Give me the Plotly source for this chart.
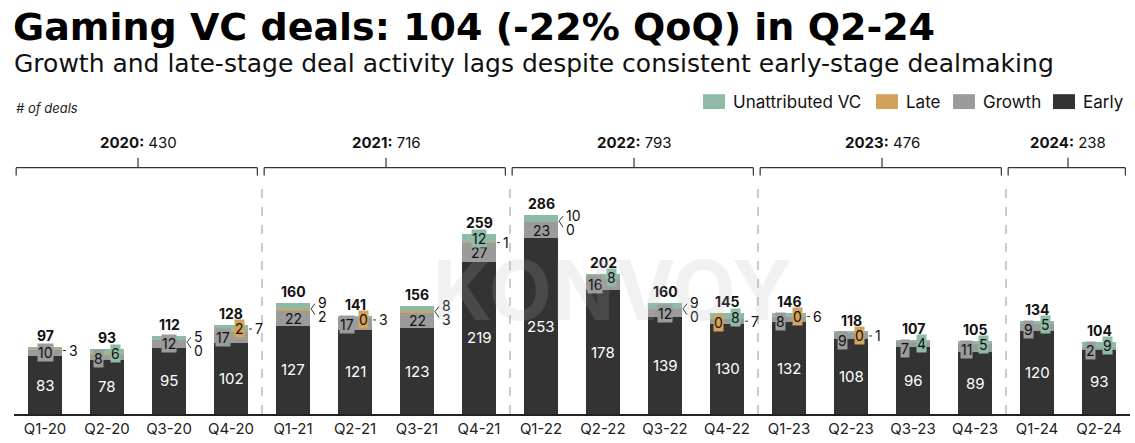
import plotly.graph_objects as go

# ---------------- data ----------------
quarters = ["Q1-20", "Q2-20", "Q3-20", "Q4-20", "Q1-21", "Q2-21", "Q3-21", "Q4-21",
            "Q1-22", "Q2-22", "Q3-22", "Q4-22", "Q1-23", "Q2-23", "Q3-23", "Q4-23",
            "Q1-24", "Q2-24"]
early = [83, 78, 95, 102, 127, 121, 123, 219, 253, 178, 139, 130, 132, 108, 96, 89, 120, 93]
growth = [10, 8, 12, 17, 22, 17, 22, 27, 23, 16, 12, 7, 8, 9, 7, 11, 9, 2]
late = [1, 1, 0, 2, 2, 0, 3, 1, 0, 0, 0, 0, 0, 0, 0, 0, 0, 0]
unattributed = [3, 6, 5, 7, 9, 3, 8, 12, 10, 8, 9, 8, 6, 1, 4, 5, 5, 9]
years = ["2020", "2021", "2022", "2023", "2024"]

# label placement style per quarter (g=growth, l=late, u=unattributed)
# c=centre, l=left box, r=right box, o=outside, ou=outside up, od=outside down
label_style = ["g:c,u:o", "g:l,u:r", "g:c,l:od,u:ou", "g:l,l:r,u:o",
               "g:c,l:od,u:ou", "g:l,l:r,u:o", "g:c,l:od,u:ou", "g:c,l:o,u:cb",
               "g:c,l:od,u:ou", "g:l,u:r", "g:c,l:od,u:ou", "g:o,l:l,u:r",
               "g:l,l:r,u:o", "g:l,l:r,u:o", "g:l,u:r", "g:l,u:r",
               "g:l,u:r", "g:l,u:r"]

# ---------------- style ----------------
COL = {"early": "#333333", "growth": "#9b9b9b", "late": "#d1a35b", "unatt": "#8fbba6"}
FONT = "Inter, Roboto, sans-serif"
TFONT = "DejaVu Sans, sans-serif"
W, H = 1135, 443
L, R, T, B = 14, 5, 120, 27
PW, PH = W - L - R, H - T - B
YMAX = 422.9
K = PH / YMAX  # px per unit


def pxx(px):
    return (px - L) / PW


def pyy(py):
    return (H - B - py) / PH


n = len(quarters)
totals = [early[i] + growth[i] + late[i] + unattributed[i] for i in range(n)]

fig = go.Figure()
for name, vals, key in [("Early", early, "early"), ("Growth", growth, "growth"),
                        ("Late", late, "late"), ("Unattributed VC", unattributed, "unatt")]:
    fig.add_trace(go.Bar(x=quarters, y=vals, name=name, marker_color=COL[key],
                         marker_line_width=0, width=0.55, hoverinfo="skip",
                         showlegend=False))

ann = []
shapes = []

# totals and early labels
for i in range(n):
    ann.append(dict(x=i, y=totals[i], xref="x", yref="y", text="<b>%d</b>" % totals[i],
                    showarrow=False, yanchor="bottom", yshift=1,
                    font=dict(family=FONT, size=14, color="#111")))
    ann.append(dict(x=i, y=early[i] / 2, xref="x", yref="y", text=str(early[i]),
                    showarrow=False, font=dict(family=FONT, size=15, color="white")))

# small segment labels
segs = {"g": (growth, "growth"), "l": (late, "late"), "u": (unattributed, "unatt")}
for i in range(n):
    base = {"g": early[i], "l": early[i] + growth[i], "u": early[i] + growth[i] + late[i]}
    tot = totals[i]
    pairs = [p.split(":") for p in label_style[i].split(",")]
    for s, mode in pairs:
        vals, key = segs[s]
        v = vals[i]
        mid = base[s] + v / 2
        txt = str(v)
        f = dict(family=FONT, size=14, color="#111")
        if mode == "c":
            ann.append(dict(x=i, y=mid, xref="x", yref="y", text=txt, showarrow=False,
                            font=f, bgcolor=COL[key] if v < 20 else None, borderpad=0))
        elif mode == "cb":
            ann.append(dict(x=i, y=mid, xref="x", yref="y", text=txt, showarrow=False,
                            font=f, bgcolor=COL[key], borderpad=0))
        elif mode == "l":
            y = min(mid, tot - 9 / K)
            ann.append(dict(x=i - 0.13, y=y, xref="x", yref="y", text=txt, showarrow=False,
                            font=f, bgcolor=COL[key], borderpad=0))
        elif mode == "r":
            y = tot - 4 / K
            ann.append(dict(x=i + 0.145, y=y, xref="x", yref="y", text=txt, showarrow=False,
                            font=f, bgcolor=COL[key], borderpad=0))
        elif mode == "o":
            y = min(mid, tot - 4 / K)
            ann.append(dict(x=i + 0.36, y=y, xref="x", yref="y", text=txt, showarrow=False,
                            xanchor="left", font=f))
            shapes.append(dict(type="line", xref="x", yref="y", x0=i + 0.29, x1=i + 0.34,
                               y0=y, y1=y, line=dict(color="#333", width=1)))
        elif mode in ("ou", "od"):
            y = tot if mode == "ou" else tot - 14 / K
            ann.append(dict(x=i + 0.365, y=y, xref="x", yref="y", text=txt, showarrow=False,
                            xanchor="left", font=f))
            y0 = tot - 6 / K
            y1 = tot - 1 / K if mode == "ou" else tot - 12 / K
            shapes.append(dict(type="line", xref="x", yref="y", x0=i + 0.29, x1=i + 0.355,
                               y0=y0, y1=y1, line=dict(color="#333", width=1)))

# year brackets and separators
for yi, yr in enumerate(years):
    i0 = yi * 4
    i1 = min(i0 + 3, n - 1)
    ysum = sum(totals[i0:i1 + 1])
    xa, xb = i0 - 0.5 + 0.035, i1 + 0.5 - 0.075
    xc = (i0 + i1) / 2
    yl = (H - B - 168) / K
    ye = (H - B - 176) / K
    yt = (H - B - 158) / K
    lc = dict(color="#333", width=1.2)
    shapes += [
        dict(type="line", xref="x", yref="y", x0=xa, x1=xb, y0=yl, y1=yl, line=lc),
        dict(type="line", xref="x", yref="y", x0=xa, x1=xa, y0=ye, y1=yl, line=lc),
        dict(type="line", xref="x", yref="y", x0=xb, x1=xb, y0=ye, y1=yl, line=lc),
        dict(type="line", xref="x", yref="y", x0=xc, x1=xc, y0=yl, y1=yt, line=lc),
    ]
    ann.append(dict(x=xc, y=(H - B - 143) / K, xref="x", yref="y",
                    text="<b>%s:</b> %d" % (yr, ysum), showarrow=False,
                    font=dict(family=FONT, size=15, color="#111")))
    if yi > 0:
        xs = i0 - 0.5
        shapes.append(dict(type="line", xref="x", yref="y", x0=xs, x1=xs, y0=0,
                           y1=(H - B - 182) / K,
                           line=dict(color="#999", width=1, dash="dash")))

# legend (manual)
leg = [("Unattributed VC", "unatt", 703), ("Late", "late", 876),
       ("Growth", "growth", 953), ("Early", "early", 1053)]
for name, key, x0 in leg:
    shapes.append(dict(type="rect", xref="paper", yref="paper", x0=pxx(x0), x1=pxx(x0 + 22),
                       y0=pyy(109), y1=pyy(94), fillcolor=COL[key], line=dict(width=0)))
    ann.append(dict(x=pxx(x0 + 28), y=pyy(101.5), xref="paper", yref="paper", text=name,
                    showarrow=False, xanchor="left", yanchor="middle",
                    font=dict(family=FONT, size=17, color="#111")))

# titles
ann.append(dict(x=pxx(11), y=pyy(26), xref="paper", yref="paper",
                text="<b>Gaming VC deals: 104 (-22% QoQ) in Q2-24</b>", showarrow=False,
                xanchor="left", yanchor="middle",
                font=dict(family=TFONT, size=38, color="#000")))
ann.append(dict(x=pxx(12), y=pyy(63), xref="paper", yref="paper",
                text="Growth and late-stage deal activity lags despite consistent early-stage dealmaking",
                showarrow=False, xanchor="left", yanchor="middle",
                font=dict(family=TFONT, size=25, color="#111")))
ann.append(dict(x=pxx(14), y=pyy(108), xref="paper", yref="paper",
                text="<i># of deals</i>", showarrow=False, xanchor="left", yanchor="middle",
                font=dict(family=FONT, size=13, color="#222")))

# watermark
ann.append(dict(x=pxx(612), y=pyy(292), xref="paper", yref="paper", text="<b>KONVOY</b>",
                showarrow=False, font=dict(family=FONT, size=82, color="rgba(175,175,175,0.18)")))

fig.update_layout(
    width=W, height=H, barmode="stack", bargap=0.45,
    margin=dict(l=L, r=R, t=T, b=B, pad=0),
    paper_bgcolor="white", plot_bgcolor="white",
    annotations=ann, shapes=shapes, showlegend=False,
    xaxis=dict(type="category", range=[-0.5, n - 0.5], showgrid=False, showline=True,
               linecolor="#222", linewidth=2, ticks="",
               tickfont=dict(family=FONT, size=15, color="#222")),
    yaxis=dict(range=[0, YMAX], visible=False, showgrid=False, zeroline=False),
    font=dict(family=FONT),
)

fig.write_html("out.html", config={"displayModeBar": False},
               post_script="document.body.style.margin='0';")
